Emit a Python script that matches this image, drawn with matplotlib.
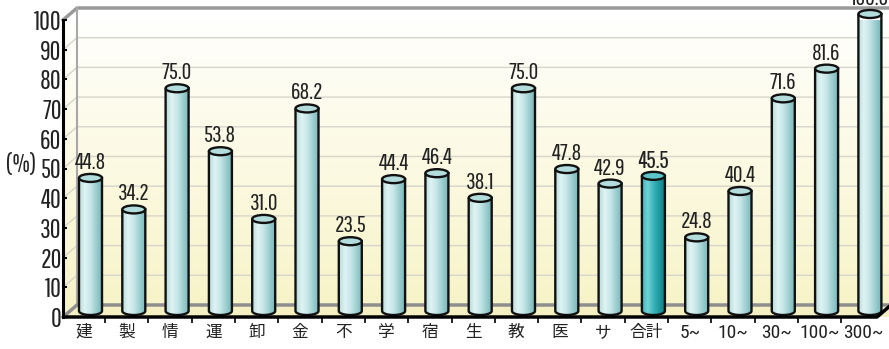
import numpy as np
import matplotlib.pyplot as plt
from matplotlib.patches import Ellipse, Polygon, PathPatch
from matplotlib.path import Path
from matplotlib.colors import LinearSegmentedColormap

categories = ['建', '製', '情', '運', '卸', '金', '不', '学', '宿', '生', '教', '医', 'サ',
              '合計', '5~', '10~', '30~', '100~', '300~']
values = [44.8, 34.2, 75.0, 53.8, 31.0, 68.2, 23.5, 44.4, 46.4, 38.1, 75.0, 47.8, 42.9,
          45.5, 24.8, 40.4, 71.6, 81.6, 100.0]
highlight = '合計'
yticks = list(range(0, 101, 10))

NARROW = ['Pathway Gothic One', 'Roboto Condensed', 'DejaVu Sans']
HEAVY = ['Oswald', 'Roboto Condensed', 'DejaVu Sans']
CJK = ['Noto Sans CJK JP', 'DejaVu Sans']
SIZE_FONT = ['Roboto Condensed', 'DejaVu Sans']

W, H = 889, 349
fig = plt.figure(figsize=(W / 100, H / 100), dpi=100)

# plot box (pixels from top-left)
left_px, bottom_px, top_px = 63, 317, 20
step_px = 43.3
first_px = 83.5
ax_w = W - left_px
ax_h = bottom_px - top_px
ax = fig.add_axes([left_px / W, (H - bottom_px) / H, ax_w / W, ax_h / H])
ax.patch.set_visible(False)

xlo = -(first_px - left_px) / step_px
xhi = xlo + ax_w / step_px
px_y = ax_h / 100.0
dx, dy = 14 / step_px, 12 / px_y        # depth of the box
xr = xhi + 1.0                          # back wall runs past the right edge
xf = xlo + (877 - left_px) / step_px    # end of front floor edge

# wall gradient: white at top, pale yellow at the floor
wall_cmap = LinearSegmentedColormap.from_list('wall', ['#f7f3c6', '#fcfae3', '#ffffff'])
grad = np.linspace(0, 1, 256).reshape(-1, 1)
wall = Polygon([(xlo, 0), (xlo, 100), (xlo + dx, 100 + dy), (xr, 100 + dy),
                (xr, dy), (xlo + dx, dy)], closed=True, fc='none', ec='none',
               transform=ax.transData)
ax.add_patch(wall)
img = ax.imshow(grad, cmap=wall_cmap, extent=(xlo, xr, 0, 100 + dy), origin='lower',
                aspect='auto', zorder=0)
img.set_clip_path(wall)
ax.add_patch(Polygon([(xlo, 0), (xlo + dx, dy), (xr, dy), (xr, 0)], closed=True,
                     fc='#f4f0c2', ec='none', zorder=0.5, clip_on=False))

# grid on the side and back walls
for v in yticks[1:-1]:
    ax.plot([xlo, xlo + dx, xr], [v, v + dy, v + dy], color='#d6d6cc', lw=1,
            zorder=1, clip_on=False)
ax.plot([xlo, xlo + dx, xr], [100, 100 + dy, 100 + dy], color='#9a9a9a', lw=2.5,
        zorder=1, clip_on=False)
ax.plot([xlo + dx, xlo + dx], [dy, 100 + dy], color='#a8a8a8', lw=1.5, zorder=1,
        clip_on=False)
ax.plot([xlo, xlo + dx, xr], [0, dy, dy], color='#8e8e8e', lw=2.5, zorder=1,
        clip_on=False)

# front axes lines
ax.plot([xlo, xlo], [0, 100], color='black', lw=2.2, zorder=5, clip_on=False)
ax.plot([xlo, xf, xf + dx], [0, 0, dy], color='black', lw=2.5, zorder=5,
        clip_on=False, solid_capstyle='butt')

for s in ax.spines.values():
    s.set_visible(False)

ax.set_xlim(xlo, xhi)
ax.set_ylim(0, 100)
ax.set_yticks(yticks)
ax.set_yticklabels([str(t) for t in yticks], fontfamily=NARROW, fontsize=19,
                   color='#222222')
ax.tick_params(axis='y', direction='in', length=3, width=1.5, pad=1, color='black')
ax.set_xticks(range(len(categories)))
ax.set_xticklabels(categories, color='#222222')
for lab, cat in zip(ax.get_xticklabels(), categories):
    if cat[0].isdigit():
        lab.set_fontfamily(SIZE_FONT)
        lab.set_fontsize(14)
    else:
        lab.set_fontfamily(CJK)
        lab.set_fontsize(12)
ax.set_xticks(np.arange(len(categories) - 1) + 0.5, minor=True)
ax.tick_params(axis='x', which='major', length=0, pad=5)
ax.tick_params(axis='x', which='minor', length=4, width=1.2, direction='out')

fig.text(21 / W, 1 - 165 / H, '(%)', ha='center', va='center', fontsize=18,
         fontfamily=NARROW, color='#222222')

# cylinders
body_cmap = LinearSegmentedColormap.from_list(
    'body', ['#b5dcdc', '#e0f3f3', '#c6e6e7', '#9dcfd1', '#7ab6b9'])
hi_cmap = LinearSegmentedColormap.from_list(
    'body_hi', ['#3cb6bc', '#72d2d6', '#3ab4ba', '#1f9aa0', '#147c82'])
row = np.linspace(0, 1, 128).reshape(1, -1)

w = 23 / step_px
hw = w / 2
eh = 8 / px_y
t = np.linspace(np.pi, 2 * np.pi, 40)

for i, (cat, v) in enumerate(zip(categories, values)):
    xc = i + dx / 2
    y0 = dy / 2
    y1 = v + dy / 2
    is_hi = cat == highlight
    pts = [(xc - hw, y1), (xc - hw, y0)]
    pts += list(zip(xc + hw * np.cos(t), y0 + eh / 2 * np.sin(t)))
    pts += [(xc + hw, y1), (xc - hw, y1)]
    body = PathPatch(Path(pts), fc='none', ec='#111111', lw=1.7, zorder=4,
                     clip_on=False)
    ax.add_patch(body)
    bimg = ax.imshow(row, cmap=hi_cmap if is_hi else body_cmap, aspect='auto',
                     extent=(xc - hw, xc + hw, y0 - eh / 2, y1), zorder=3)
    bimg.set_clip_path(body)
    ax.add_patch(Ellipse((xc, y1), w, eh, fc='#5cc5ca' if is_hi else '#b3dcdd',
                         ec='#111111', lw=1.7, zorder=4.5, clip_on=False))
    ax.text(xc, y1 + 5 / px_y, f'{v:.1f}', ha='center', va='bottom',
            fontsize=14 if is_hi else 17, fontfamily=HEAVY if is_hi else NARROW,
            color='#222222', zorder=6)

ax.set_xlim(xlo, xhi)
ax.set_ylim(0, 100)

fig.savefig('out.png', dpi=100)
